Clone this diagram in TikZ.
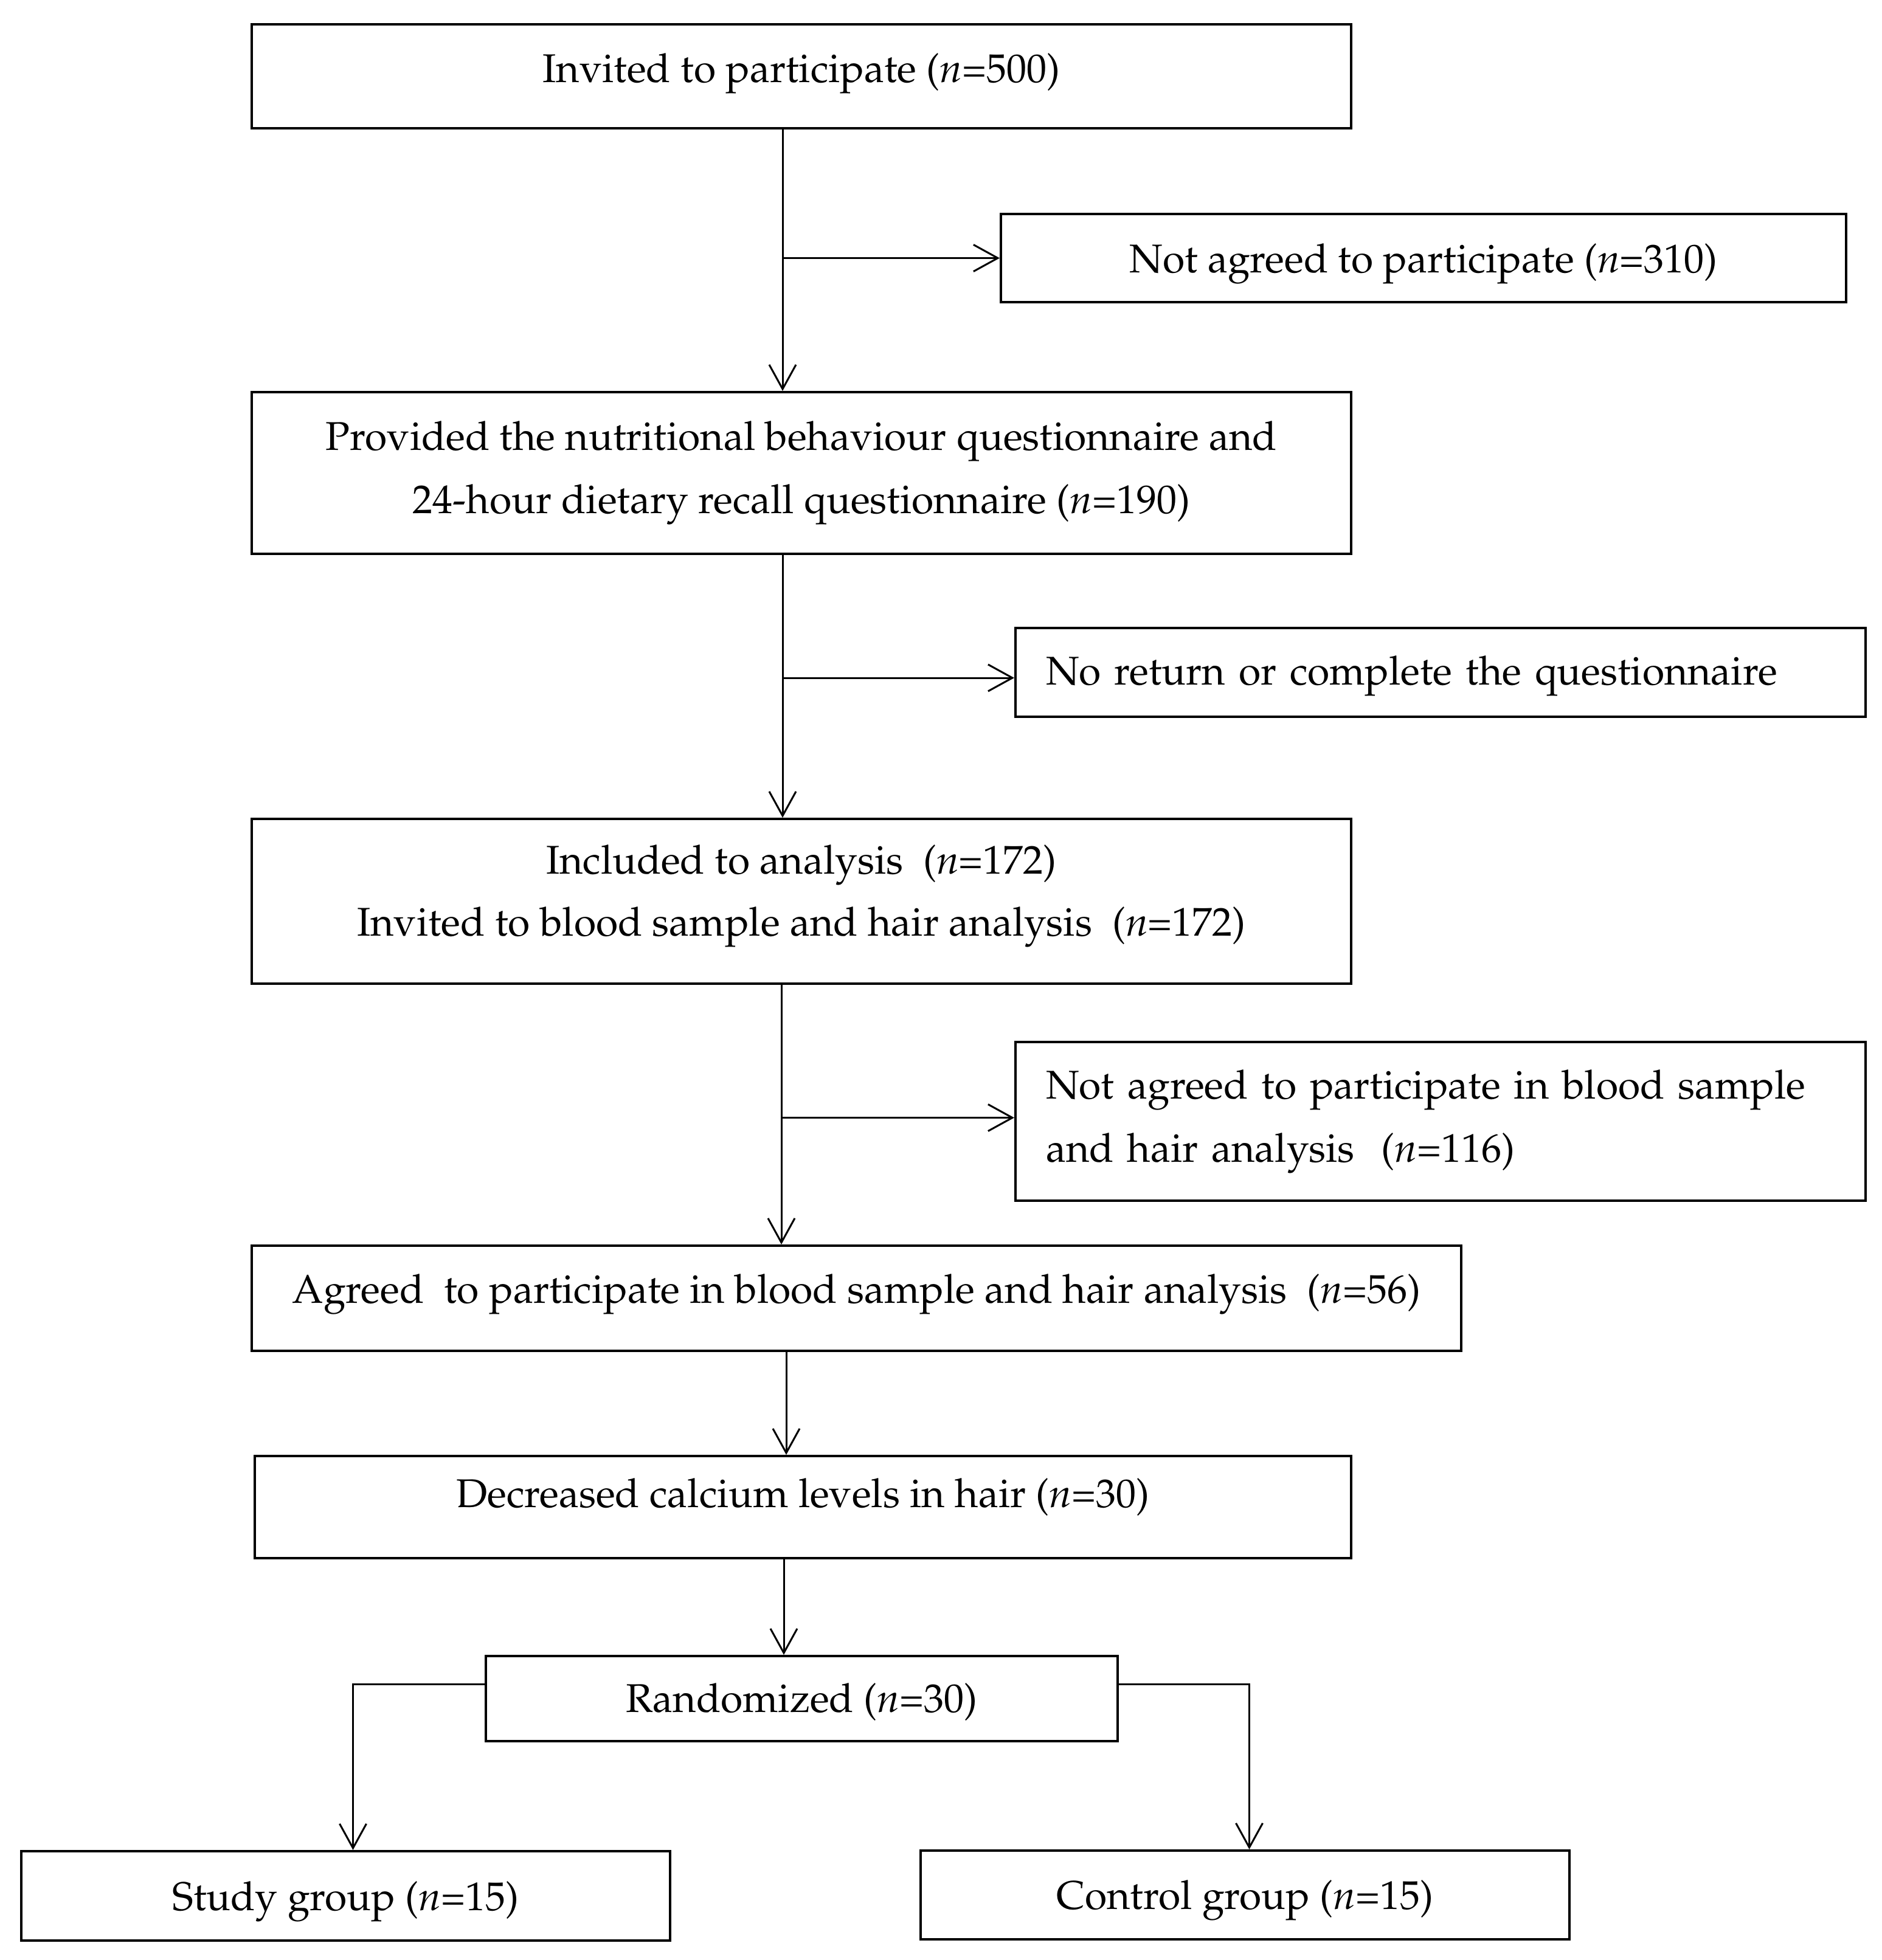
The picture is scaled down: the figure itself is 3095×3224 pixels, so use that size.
\documentclass[tikz,border=0pt]{standalone}
\usepackage[T1]{fontenc}
\renewcommand{\rmdefault}{ppl}
\usetikzlibrary{arrows.meta}
\newcommand{\lift}[2]{\raisebox{#1pt}{#2}}
\begin{document}
\begin{tikzpicture}[x=1pt,y=-1pt,
  box/.style={draw=black, line width=4pt, inner sep=0pt, align=center,
    font=\fontsize{66}{104}\selectfont},
  one/.style={box, text height=46pt, text depth=14pt},
  lbox/.style={box, align=left, inner xsep=50pt},
  txt/.style={inner sep=0pt, align=center, font=\fontsize{66}{102}\selectfont},
  conn/.style={draw=black, line width=3pt},
  arr/.style={conn, -{Straight Barb[length=40pt,width=44pt,line width=3pt]}}]
\useasboundingbox (0,0) rectangle (3095,3224);

\node[one, minimum width=1808pt, minimum height=171pt] (b1) at (1318,125.5)
  {\lift{6}{Invited to participate (\textit{n}=500)}};
\node[one, minimum width=1390pt, minimum height=145pt] (b2) at (2341,424.5)
  {\lift{-8}{Not agreed to participate (\textit{n}=310)}};
\node[box, minimum width=1808pt, minimum height=266pt] (b3) at (1318,778)
  {Provided the nutritional behaviour questionnaire and\\24-hour dietary recall questionnaire (\textit{n}=190)};
\node[one, lbox, text width=1298pt, minimum height=146pt] (b4) at (2369,1106)
  {\lift{-4}{No return or complete the questionnaire}};
\node[box, minimum width=1808pt, minimum height=271pt] (b5) at (1318,1482.5) {};
\node[txt] (b5t) at ([yshift=9pt]b5.center)
  {Included to analysis\ \ (\textit{n}=172)\\Invited to blood sample and hair analysis\ \ (\textit{n}=172)};
\node[lbox, text width=1298pt, minimum height=261pt] (b6) at (2369,1844.5)
  {Not agreed to participate in blood sample\\and hair analysis\ \ (\textit{n}=116)};
\node[one, minimum width=1989pt, minimum height=173pt] (b7) at (1408.5,2135.5)
  {\lift{8}{Agreed\ \ to participate in blood sample and hair analysis\ \ (\textit{n}=56)}};
\node[one, minimum width=1803pt, minimum height=168pt] (b8) at (1320.5,2479)
  {\lift{16}{Decreased calcium levels in hair (\textit{n}=30)}};
\node[one, minimum width=1039pt, minimum height=140pt] (b9) at (1318.5,2794)
  {\lift{-6}{Randomized (\textit{n}=30)}};
\node[one, minimum width=1067pt, minimum height=147pt] (b10) at (568.5,3118.5)
  {\lift{-8}{Study group (\textit{n}=15)}};
\node[one, minimum width=1067pt, minimum height=146pt] (b11) at (2047.5,3117)
  {\lift{-7}{Control group (\textit{n}=15)}};

\coordinate (v1) at (1287,0);
\coordinate (v2) at (1287,0);
\coordinate (v3) at (1285,0);
\coordinate (v4) at (1293,0);
\coordinate (v5) at (1289,0);

\draw[arr] (b1.south -| v1) -- (b3.north -| v1);
\draw[arr] (b2.west -| v1) -- (b2.west);
\draw[arr] (b3.south -| v2) -- (b5.north -| v2);
\draw[arr] ([yshift=-9pt]b4.west -| v2) -- ([yshift=-9pt]b4.west);
\draw[arr] (b5.south -| v3) -- (b7.north -| v3);
\draw[arr] ([yshift=6pt]b6.west -| v3) -- ([yshift=6pt]b6.west);
\draw[arr] (b7.south -| v4) -- (b8.north -| v4);
\draw[arr] (b8.south -| v5) -- (b9.north -| v5);
\draw[arr] ([yshift=24pt]b9.west) -| ([xshift=12pt]b10.north);
\draw[arr] ([yshift=24pt]b9.east) -| ([xshift=7pt]b11.north);
\end{tikzpicture}
\end{document}
